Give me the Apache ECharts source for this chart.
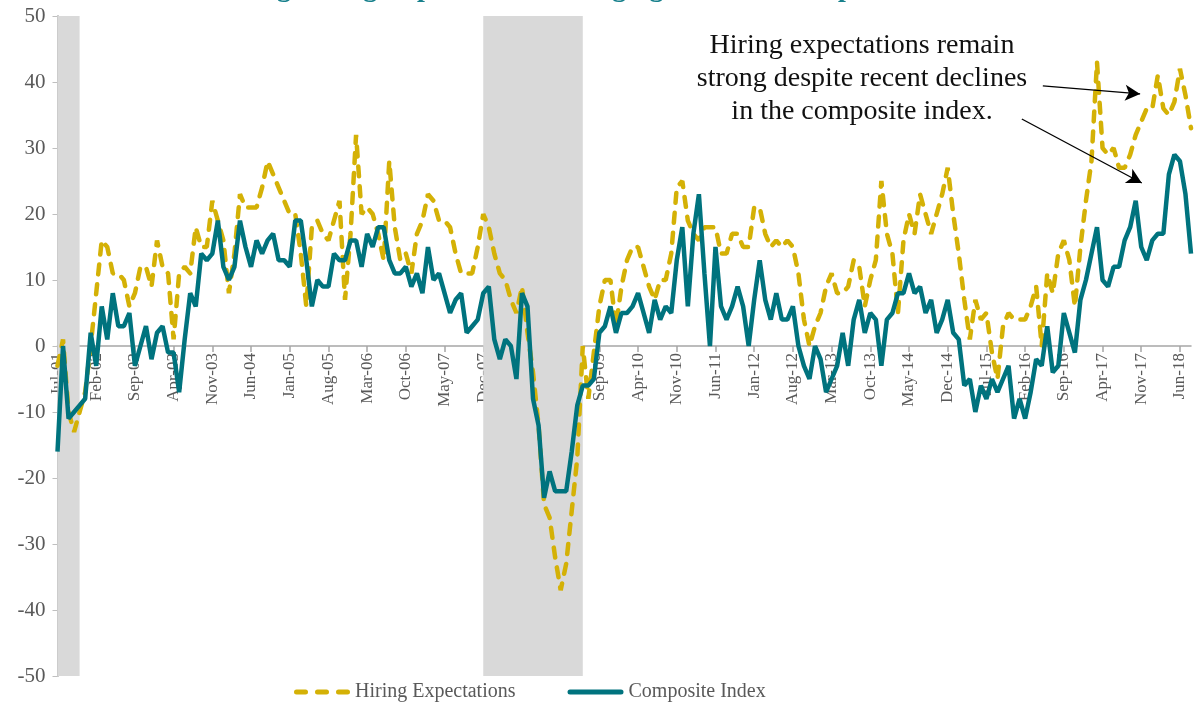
<!DOCTYPE html>
<html>
<head>
<meta charset="utf-8">
<title>Hiring Expectations vs Composite Index</title>
<script src="https://cdn.jsdelivr.net/npm/echarts@6.0.0/dist/echarts.min.js"></script>
<style>
  html, body { margin: 0; padding: 0; background: #fff; }
  #chart { width: 1194px; height: 704px; }
</style>
</head>
<body>
<div id="chart"></div>
<script>
// monthly, Jul-01 .. Aug-18
var monthNames = ['Jan','Feb','Mar','Apr','May','Jun','Jul','Aug','Sep','Oct','Nov','Dec'];
var months = [];
for (var k = 0; k < 206; k++) {
    var m = (6 + k) % 12;
    var yr = 1 + Math.floor((6 + k) / 12);
    months.push(monthNames[m] + '-' + (yr < 10 ? '0' + yr : '' + yr));
}

var hiring = [
    -3, 1, -10, -13, -10, -7, 0, 8, 16, 15, 11, 11,
    10, 6, 8, 12, 12, 9, 16, 12, 11, 1, 11, 12,
    11, 18, 15, 15, 22, 19, 16, 8, 14, 23, 21, 21,
    21, 24, 28, 26, 24, 22, 20, 20, 14, 6, 18, 19,
    17, 16, 19, 22, 7, 17, 32, 20, 21, 20, 17, 13,
    28, 18, 13, 14, 11, 17, 19, 23, 22, 19, 19, 18,
    14, 11, 11, 11, 15, 20, 18, 14, 11, 10, 7, 5,
    9, 2, -4, -12, -24, -26, -32, -37, -33, -25, -17, 0,
    -8, -1, 6, 10, 10, 3, 9, 13, 15, 15, 12, 9,
    7, 10, 10, 14, 24, 25, 19, 17, 16, 18, 18, 18,
    14, 14, 17, 17, 15, 15, 21, 21, 17, 15, 16, 15,
    16, 15, 11, 4, 0, 3, 5, 9, 11, 8, 8, 9,
    13, 12, 6, 10, 13, 25, 17, 14, 5, 16, 20, 17,
    23, 20, 17, 20, 23, 27, 20, 14, 7, 1, 7, 4,
    5, -1, -5, 3, 5, 4, 4, 4, 6, 9, 0, 11,
    8, 14, 16, 13, 6, 15, 22, 28, 43, 30, 29, 30,
    27, 27, 29, 32, 34, 36, 36, 41, 36, 35, 37, 42,
    38, 33
];

var composite = [
    -16, 0, -11, -10, -9, -8, 2, -3, 6, 1, 8, 3,
    3, 5, -3, 0, 3, -2, 2, 3, -1, -1, -7, 1,
    8, 6, 14, 13, 14, 19, 12, 10, 12, 19, 15, 12,
    16, 14, 16, 17, 13, 13, 12, 19, 19, 13, 6, 10,
    9, 9, 14, 13, 13, 16, 16, 12, 17, 15, 18, 18,
    13, 11, 11, 12, 9, 11, 8, 15, 10, 11, 8, 5,
    7, 8, 2, 3, 4, 8, 9, 1, -2, 1, 0, -5,
    8, 6, -8, -12, -23, -19, -22, -22, -22, -16, -9, -6,
    -6, -5, 2, 3, 6, 2, 5, 5, 6, 8, 5, 2,
    7, 4, 6, 5, 13, 18, 6, 17, 23, 11, 0, 15,
    6, 4, 6, 9, 6, 0, 7, 13, 7, 4, 8, 4,
    4, 6, 0, -3, -5, 0, -2, -7, -5, -3, 2, -3,
    4, 7, 2, 5, 4, -3, 4, 5, 8, 8, 11, 8,
    9, 5, 7, 2, 4, 7, 2, 1, -6, -5, -10, -6,
    -8, -5, -7, -5, -3, -11, -8, -11, -7, -2, -3, 3,
    -4, -3, 5, 2, -1, 7, 10, 14, 18, 10, 9, 12,
    12, 16, 18, 22, 15, 13, 16, 17, 17, 26, 29, 28,
    23, 14
];

var recessions = [['Jul-01', 'Nov-01'], ['Dec-07', 'Jun-09']];

// arrow [start, end] as [month index, value]
var arrows = [
    [[178.2, 39.4], [195.8, 38.2]],
    [[174.4, 34.4], [196.1, 24.7]]
];

var gold = '#D4B106';
var teal = '#00737E';
var grayText = '#595959';
var serif = '"Liberation Serif", "DejaVu Serif", serif';

var chart = echarts.init(document.getElementById('chart'));

var option = {
    animation: false,
    title: {
        text: 'Strong Hiring Expectations Diverging from the Composite Index',
        left: 'center',
        top: -30,
        textStyle: { color: '#17808C', fontSize: 28, fontWeight: 'bold', fontFamily: serif }
    },
    legend: {
        data: [
            { name: 'Hiring Expectations', icon: 'path://M2.5,0h9a2.5,2.5 0 0 1 0,5h-9a2.5,2.5 0 0 1 0,-5z M23.5,0h9a2.5,2.5 0 0 1 0,5h-9a2.5,2.5 0 0 1 0,-5z M44.5,0h9a2.5,2.5 0 0 1 0,5h-9a2.5,2.5 0 0 1 0,-5z' },
            { name: 'Composite Index', icon: 'path://M2.5,0h51a2.5,2.5 0 0 1 0,5h-51a2.5,2.5 0 0 1 0,-5z' }
        ],
        left: 289,
        top: 677,
        itemWidth: 56,
        itemHeight: 5,
        itemGap: 52,
        textStyle: { color: grayText, fontSize: 20, fontFamily: serif }
    },
    grid: { left: 57.5, right: 3, top: 16, bottom: 28, containLabel: false, outerBoundsMode: 'none' },
    xAxis: [{
        type: 'category',
        data: months,
        boundaryGap: false,
        offset: -330,
        axisLine: { onZero: false, lineStyle: { color: '#a6a6a6', width: 1.5 } },
        axisTick: { interval: 6, length: 6, lineStyle: { color: '#a6a6a6', width: 1.5 } },
        axisLabel: { interval: 6, rotate: 90, color: grayText, fontSize: 17, fontFamily: serif, margin: 7 },
        splitLine: { show: false }
    }, {
        type: 'value',
        min: 0,
        max: 205,
        show: false
    }],
    yAxis: {
        type: 'value',
        min: -50,
        max: 50,
        interval: 10,
        axisLine: { show: true, onZero: false, lineStyle: { color: '#bfbfbf', width: 2 } },
        axisTick: { show: true, length: 5, lineStyle: { color: '#bfbfbf' } },
        axisLabel: { color: grayText, fontSize: 21, fontFamily: serif, margin: 12 },
        splitLine: { show: false }
    },
    graphic: [{
        type: 'text',
        x: 862,
        y: 29,
        style: {
            text: 'Hiring expectations remain\nstrong despite recent declines\nin the composite index.',
            textAlign: 'center',
            textVerticalAlign: 'top',
            font: '28px "Liberation Serif", serif',
            lineHeight: 33,
            fill: '#111'
        }
    }],
    series: [{
        name: 'Hiring Expectations',
        type: 'line',
        data: hiring,
        symbol: 'none',
        color: gold,
        lineStyle: { color: gold, width: 4.5, type: [10, 10], cap: 'round' },
        markArea: {
            silent: true,
            itemStyle: { color: '#d9d9d9' },
            data: recessions.map(function (r) { return [{ xAxis: r[0] }, { xAxis: r[1] }]; })
        }
    }, {
        name: 'Composite Index',
        type: 'line',
        data: composite,
        symbol: 'none',
        color: teal,
        lineStyle: { color: teal, width: 4.5 }
    }, {
        name: 'arrows',
        type: 'line',
        xAxisIndex: 1,
        data: [],
        markLine: {
            silent: true,
            symbol: ['none', 'arrow'],
            symbolSize: [12, 15],
            label: { show: false },
            lineStyle: { color: '#000', width: 1.3, type: 'solid' },
            data: arrows.map(function (a) { return [{ coord: a[0] }, { coord: a[1] }]; })
        }
    }]
};

chart.setOption(option);
</script>
</body>
</html>
